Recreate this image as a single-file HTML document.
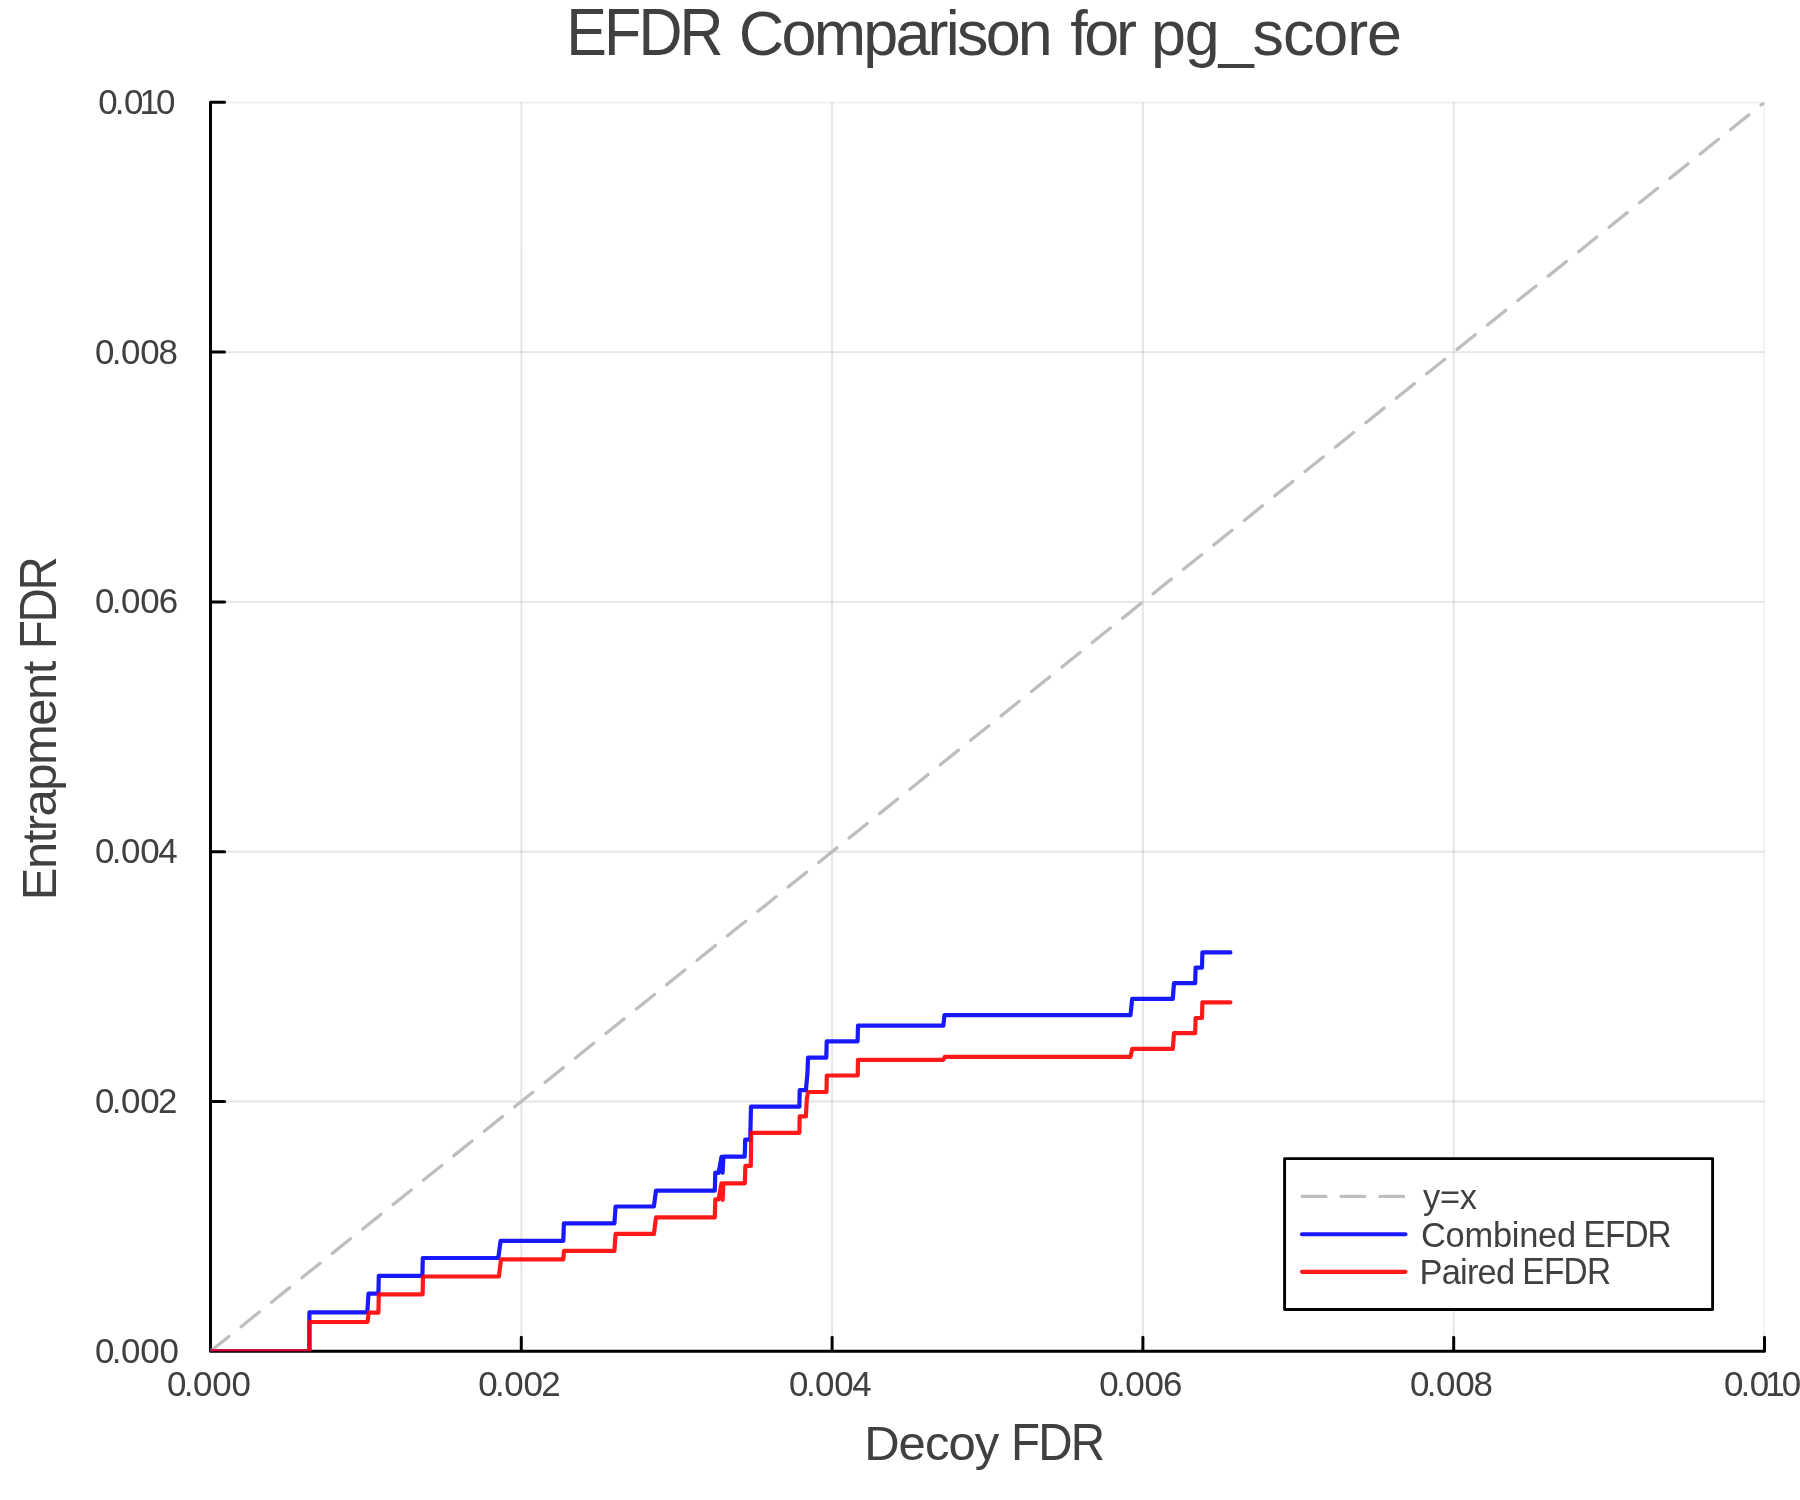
<!DOCTYPE html><html><head><meta charset="utf-8"><title>EFDR Comparison for pg_score</title><style>html,body{margin:0;padding:0;background:#fff;overflow:hidden;width:1800px;height:1500px;}svg{display:block;}text{font-kerning:none;}</style></head><body>
<svg width="1800" height="1500" viewBox="0 0 1800 1500">
<rect x="0" y="0" width="1800" height="1500" fill="#fff"/>
<defs><clipPath id="pc"><rect x="210.5" y="102.3" width="1554.0" height="1249.0"/></clipPath></defs>
<g clip-path="url(#pc)">
<path d="M210.50 102.30V1351.30M521.30 102.30V1351.30M832.10 102.30V1351.30M1142.90 102.30V1351.30M1453.70 102.30V1351.30M1764.50 102.30V1351.30" stroke="#000" stroke-opacity="0.1" stroke-width="1.9" fill="none"/>
<path d="M210.50 1351.30H1764.50M210.50 1101.50H1764.50M210.50 851.70H1764.50M210.50 601.90H1764.50M210.50 352.10H1764.50M210.50 102.30H1764.50" stroke="#000" stroke-opacity="0.1" stroke-width="1.9" fill="none"/>
</g>
<path d="M210.5 102.3V1351.3H1764.5M210.50 1351.3V1337.20M521.30 1351.3V1337.20M832.10 1351.3V1337.20M1142.90 1351.3V1337.20M1453.70 1351.3V1337.20M1764.50 1351.3V1337.20M210.5 1351.30H224.60M210.5 1101.50H224.60M210.5 851.70H224.60M210.5 601.90H224.60M210.5 352.10H224.60M210.5 102.30H224.60" stroke="#000" stroke-width="3" fill="none" stroke-linecap="round" stroke-linejoin="round"/>
<g clip-path="url(#pc)">
<path d="M210.5 1351.3L1764.5 102.3" stroke="#bebebe" stroke-width="3.3" fill="none" stroke-linecap="round" stroke-dasharray="23.3 15.7" stroke-dashoffset="-0.3"/>
<path d="M210.5 1351.3L309.4 1351.3L309.4 1312.3L367.3 1312.3L368.5 1293.7L378.4 1293.7L378.8 1275.8L422.4 1275.8L422.8 1258.0L498.3 1258.0L500.6 1240.9L563.3 1240.9L563.9 1223.3L614.4 1223.3L615.6 1206.5L653.9 1206.5L656.0 1190.6L714.8 1190.6L715.3 1172.6L718.6 1172.8L721.5 1156.8L722.6 1172.6L723.4 1156.7L744.7 1156.7L745.2 1139.6L750.2 1139.6L751.0 1106.7L799.4 1106.7L799.7 1090.2L805.9 1090.2L807.5 1072.5L808.0 1057.7L826.3 1057.7L826.7 1041.3L857.6 1041.3L858.0 1025.7L943.3 1025.7L944.5 1015.1L1130.5 1015.1L1132.2 998.8L1172.8 998.8L1174.0 983.2L1195.2 983.2L1195.6 967.6L1202.0 967.6L1202.4 952.4L1230.4 952.4" stroke="#0000ff" stroke-opacity="0.9" stroke-width="4.2" fill="none" stroke-linecap="round" stroke-linejoin="round"/>
<path d="M210.5 1351.3L309.4 1351.3L309.4 1322.0L367.5 1322.0L368.7 1312.7L378.4 1312.7L378.8 1294.3L422.6 1294.3L423.0 1276.5L498.9 1276.5L501.0 1259.4L563.3 1259.4L564.0 1250.9L614.4 1250.9L615.6 1233.9L653.9 1233.9L656.0 1217.4L714.8 1217.4L715.3 1199.3L718.6 1199.5L721.5 1183.4L722.6 1199.8L723.4 1183.3L744.8 1183.3L745.4 1165.9L750.8 1165.9L751.2 1132.8L799.4 1132.8L799.7 1116.3L805.9 1116.3L806.8 1099.4L808.0 1092.0L826.5 1092.0L826.8 1075.5L857.7 1075.5L858.0 1059.9L943.3 1059.9L944.8 1056.9L1130.5 1056.9L1132.2 1048.8L1172.8 1048.8L1174.0 1033.2L1195.2 1033.2L1195.6 1018.0L1202.0 1018.0L1202.4 1002.4L1230.4 1002.4" stroke="#ff0000" stroke-opacity="0.9" stroke-width="4.2" fill="none" stroke-linecap="round" stroke-linejoin="round"/>
</g>
<rect x="1284.6" y="1158.6" width="428" height="150.9" fill="#fff" stroke="#000" stroke-width="2.9" stroke-linejoin="round"/>
<path d="M1302.2 1196.4H1405" stroke="#bebebe" stroke-width="3.3" fill="none" stroke-linecap="round" stroke-dasharray="23.7 15.16"/>
<path d="M1302.0 1234.25H1405.4" stroke="#0000ff" stroke-opacity="0.9" stroke-width="4.2" fill="none" stroke-linecap="round"/>
<path d="M1302.0 1271.8H1405.4" stroke="#ff0000" stroke-opacity="0.9" stroke-width="4.2" fill="none" stroke-linecap="round"/>
<g fill="#404040" font-family="'Liberation Sans', Arial, Helvetica, sans-serif" opacity="0.999"><text x="615.54 656.61 693.95 738.67" y="54.70" font-size="66.30" transform="scale(0.92 1)" >EFDR</text><text x="738.81 781.43 813.63 863.22 895.41 927.60 945.77 956.97 985.63 1017.83" y="54.70" font-size="62.85" >Comparison</text><text x="1070.31 1084.37 1115.91" y="54.70" font-size="62.85" >for</text><text x="1150.95 1184.83 1218.71 1252.59 1282.95 1313.30 1347.18 1367.04" y="54.70" font-size="62.85" >pg_score</text><text x="864.18 898.62 924.93 948.48 974.79" y="1459.70" font-size="49.01" >Decoy</text><text x="1099.02 1128.57 1163.87" y="1459.70" font-size="51.70" transform="scale(0.92 1)" >FDR</text><g transform="rotate(-90)"><text x="-900.22 -869.07 -843.36 -831.28 -816.50 -790.79 -765.07 -725.79 -700.07 -674.36" y="55.80" font-size="49.01" >Entrapment</text></g><g transform="rotate(-90)"><text x="-705.76 -676.65 -641.79" y="55.80" font-size="51.70" transform="scale(0.92 1)" >FDR</text></g><text x="94.89 111.76 120.89 140.19 159.49" y="1363.41" font-size="34.9">0.000</text><text x="94.89 111.76 120.89 140.19 157.99" y="1113.41" font-size="34.9">0.002</text><text x="94.89 111.76 120.89 140.19 158.15" y="863.41" font-size="34.9">0.004</text><text x="94.89 111.76 120.89 140.19 158.68" y="613.41" font-size="34.9">0.006</text><text x="94.89 111.76 120.89 140.19 158.53" y="364.06" font-size="34.9">0.008</text><text x="98.14 114.81 124.04 139.50 155.94" y="114.26" font-size="34.9">0.010</text><text x="166.94 183.81 192.94 212.24 231.54" y="1396.36" font-size="34.9">0.000</text><text x="478.14 495.01 504.14 523.44 541.24" y="1396.36" font-size="34.9">0.002</text><text x="789.04 805.91 815.04 834.34 852.30" y="1396.36" font-size="34.9">0.004</text><text x="1099.14 1116.01 1125.14 1144.44 1162.93" y="1396.36" font-size="34.9">0.006</text><text x="1409.94 1426.81 1435.94 1455.24 1473.58" y="1396.36" font-size="34.9">0.008</text><text x="1723.94 1740.61 1749.84 1765.30 1781.74" y="1396.36" font-size="34.9">0.010</text><text x="1423.12 1440.04 1459.86" y="1209.20" font-size="34.41" >y=x</text><text x="1421.00 1445.61 1464.50 1492.91 1511.80 1519.20 1538.09 1556.98" y="1246.70" font-size="34.41" >Combined</text><text x="1721.21 1744.45 1765.66 1790.90" y="1246.70" font-size="36.30" transform="scale(0.92 1)" >EFDR</text><text x="1419.48 1441.66 1460.04 1466.91 1477.61 1495.98" y="1283.75" font-size="34.41" >Paired</text><text x="1654.74 1678.15 1699.52 1724.93" y="1283.75" font-size="36.30" transform="scale(0.92 1)" >EFDR</text></g>
</svg></body></html>
